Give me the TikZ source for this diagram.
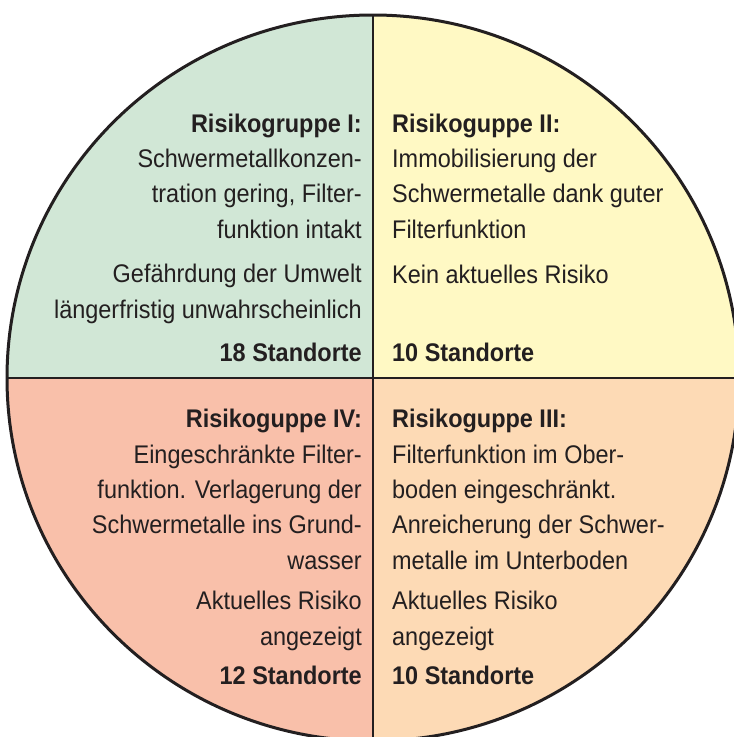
\documentclass[tikz,border=0pt]{standalone}
\usepackage{fontspec}
\setmainfont{Liberation Sans}[FakeStretch=0.92]
\definecolor{ink}{HTML}{231F20}
\definecolor{qgreen}{HTML}{D1E7D6}
\definecolor{qyellow}{HTML}{FFF9C4}
\definecolor{qsalmon}{HTML}{F9C0AA}
\definecolor{qpeach}{HTML}{FDDAB5}
\begin{document}
\begin{tikzpicture}[x=1pt,y=-1pt,
  txt/.style={inner sep=0pt, text=ink, font=\fontsize{25.5}{35.3}\selectfont},
  lt/.style={txt, anchor=base east, align=right},
  rt/.style={txt, anchor=base west, align=left},
  bold/.style={font=\fontsize{25.5}{35.3}\selectfont\bfseries},
  divider/.style={draw=ink, line width=1.5pt},
  rim/.style={draw=ink, line width=3pt}]
\useasboundingbox (0,0) rectangle (734,737);

% centre and ends of the two dividers
\coordinate (c) at (373,378);
\coordinate (top) at (373,15);
\coordinate (bot) at (373,741);
\coordinate (lft) at (7,378);
\coordinate (rgt) at (739,378);

% quadrant fills, clipped to the disc
\begin{scope}
  \clip (c) ellipse [x radius=366pt, y radius=363pt];
  \fill[qgreen]  (0,0)   rectangle (c);
  \fill[qyellow] (746,0) rectangle (c);
  \fill[qsalmon] (0,746) rectangle (c);
  \fill[qpeach]  (746,746) rectangle (c);
\end{scope}

% dividers and rim
\draw[divider] (top) -- (bot);
\draw[divider] (lft) -- (rgt);
\draw[rim] (c) ellipse [x radius=366pt, y radius=363pt];

% text blocks are placed by the baseline of their last line

% group I (top left)
\node[lt] (g1a) at (362,238) {\textbf{Risikogruppe I:}\\Schwermetallkonzen-\\tration gering, Filter-\\funktion intakt};
\node[lt] (g1b) at (362,318) {Gefährdung der Umwelt\\längerfristig unwahrscheinlich};
\node[lt,bold] (g1c) at (362,361) {18 Standorte};

% group II (top right)
\node[rt] (g2a) at (392,238) {\textbf{Risikoguppe II:}\\Immobilisierung der\\Schwermetalle dank guter\\Filterfunktion};
\node[rt] (g2b) at (392,283) {Kein aktuelles Risiko};
\node[rt,bold] (g2c) at (392,361) {10 Standorte};

% group IV (bottom left)
\node[lt] (g4a) at (362,569) {\textbf{Risikoguppe IV:}\\Eingeschränkte Filter-\\funktion. Verlagerung der\\Schwermetalle ins Grund-\\wasser};
\node[lt] (g4b) at (362,645) {Aktuelles Risiko\\angezeigt};
\node[lt,bold] (g4c) at (362,684) {12 Standorte};

% group III (bottom right)
\node[rt] (g3a) at (392,569) {\textbf{Risikoguppe III:}\\Filterfunktion im Ober-\\boden eingeschränkt.\\Anreicherung der Schwer-\\metalle im Unterboden};
\node[rt] (g3b) at (392,645) {Aktuelles Risiko\\angezeigt};
\node[rt,bold] (g3c) at (392,684) {10 Standorte};
\end{tikzpicture}
\end{document}
